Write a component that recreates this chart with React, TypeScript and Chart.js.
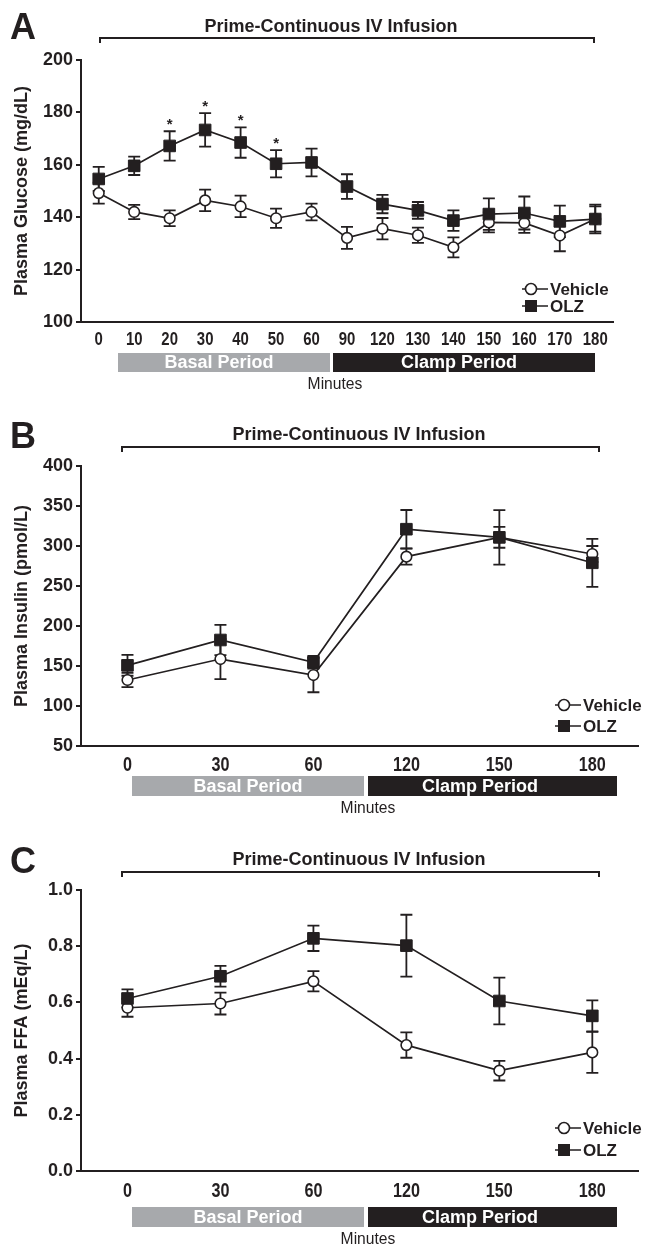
import React, { useEffect, useRef } from 'react';
import { Chart, registerables } from 'chart.js';

Chart.register(...registerables);

const SANS = "'Liberation Sans', Arial, Helvetica, sans-serif";
const INK = '#231f20';
const GRAY = '#a7a9ac';

// ---------- Panel A: plasma glucose ----------
const glucoseMinutes = ['0', '10', '20', '30', '40', '50', '60', '90', '120', '130', '140', '150', '160', '170', '180'];
const glucoseVehicle = [149.2, 142.0, 139.6, 146.4, 144.1, 139.6, 142.0, 132.1, 135.6, 133.1, 128.5, 138.0, 137.8, 133.0, 139.3];
const glucoseVehicleErr = [4.0, 2.7, 3.0, 4.1, 4.1, 3.7, 3.2, 4.2, 4.1, 2.9, 3.8, 3.8, 3.8, 6.0, 4.8];
const glucoseOlz = [154.6, 159.6, 167.2, 173.3, 168.5, 160.4, 160.9, 151.7, 145.0, 142.6, 138.7, 141.2, 141.6, 138.4, 139.3];
const glucoseOlzErr = [4.6, 3.5, 5.6, 6.4, 5.8, 5.2, 5.3, 4.7, 3.5, 3.2, 3.9, 6.0, 6.3, 6.0, 5.5];
const glucoseOlzSig = ['', '', '*', '*', '*', '*', '', '', '', '', '', '', '', '', ''];
const glucoseTicks = [100, 120, 140, 160, 180, 200];
const glucoseTickLabels = ['100', '120', '140', '160', '180', '200'];

// ---------- Panel B: plasma insulin ----------
const insulinMinutes = ['0', '30', '60', '120', '150', '180'];
const insulinVehicle = [132.5, 158.7, 138.7, 286.7, 310.8, 290.0];
const insulinVehicleErr = [9, 25, 21.5, 10, 13, 10];
const insulinOlz = [150.8, 182.5, 154.6, 321.0, 310.8, 279.0];
const insulinOlzErr = [13, 19, 8, 24, 34, 30];
const insulinTicks = [50, 100, 150, 200, 250, 300, 350, 400];
const insulinTickLabels = ['50', '100', '150', '200', '250', '300', '350', '400'];

// ---------- Panel C: plasma FFA ----------
const ffaMinutes = ['0', '30', '60', '120', '150', '180'];
const ffaVehicle = [0.581, 0.596, 0.675, 0.448, 0.357, 0.422];
const ffaVehicleErr = [0.032, 0.039, 0.036, 0.045, 0.035, 0.073];
const ffaOlz = [0.614, 0.693, 0.828, 0.802, 0.605, 0.552];
const ffaOlzErr = [0.032, 0.037, 0.045, 0.11, 0.083, 0.055];
const ffaTicks = [0, 0.2, 0.4, 0.6, 0.8, 1.0];
const ffaTickLabels = ['0.0', '0.2', '0.4', '0.6', '0.8', '1.0'];

const infusionLabel = 'Prime-Continuous IV Infusion';
const basalLabel = 'Basal Period';
const clampLabel = 'Clamp Period';
const xTitle = 'Minutes';
const vehicleName = 'Vehicle';
const olzName = 'OLZ';

type Layout = {
  top: number; height: number;
  chartTop: number; chartBottom: number; chartRight: number;
  letter: string; letterY: number;
  titleX: number; titleY: number; bracketY: number; bracketL: number; bracketR: number;
  basal: [number, number]; clamp: [number, number]; barY: number; barH: number;
  basalTextX: number; clampTextX: number;
  minutesX: number; minutesY: number;
  legendX: number; legendY1: number; legendY2: number;
  xFont: number; xLabelGap: number;
};

type PanelProps = {
  layout: Layout;
  labels: string[];
  vehicle: number[]; vehicleErr: number[];
  olz: number[]; olzErr: number[];
  sig?: string[];
  ticks: number[]; tickLabels: string[];
  yTitle: string;
};

function condensedText(ctx: CanvasRenderingContext2D, text: string, x: number, y: number, sx: number) {
  ctx.save();
  ctx.translate(x, y);
  ctx.scale(sx, 1);
  ctx.fillText(text, 0, 0);
  ctx.restore();
}

function Panel(p: PanelProps) {
  const ref = useRef<HTMLCanvasElement | null>(null);
  const L = p.layout;
  useEffect(() => {
    const canvas = ref.current;
    if (!canvas) return;
    const errs = [p.olzErr, p.vehicleErr];

    const decor = {
      id: 'decor' + L.letter,
      beforeDatasetsDraw(chart: any) {
        const ctx = chart.ctx;
        const ys = chart.scales.y;
        ctx.save();
        ctx.strokeStyle = INK;
        ctx.lineWidth = 1.8;
        chart.data.datasets.forEach((ds: any, di: number) => {
          const meta = chart.getDatasetMeta(di);
          ds.data.forEach((v: number, i: number) => {
            const e = errs[di][i];
            const x = meta.data[i].x;
            const y1 = ys.getPixelForValue(v + e);
            const y2 = ys.getPixelForValue(v - e);
            ctx.beginPath();
            ctx.moveTo(x, y1); ctx.lineTo(x, y2);
            ctx.moveTo(x - 6, y1); ctx.lineTo(x + 6, y1);
            ctx.moveTo(x - 6, y2); ctx.lineTo(x + 6, y2);
            ctx.stroke();
          });
        });
        ctx.restore();
      },
      afterDraw(chart: any) {
        const ctx = chart.ctx;
        const ys = chart.scales.y;
        const xs = chart.scales.x;
        ctx.save();
        ctx.fillStyle = INK;
        ctx.strokeStyle = INK;
        // x tick labels (condensed bold), positioned by the category scale
        ctx.font = `bold ${L.xFont}px ${SANS}`;
        ctx.textAlign = 'center';
        ctx.textBaseline = 'middle';
        xs.ticks.forEach((_t: any, i: number) => {
          condensedText(ctx, xs.getLabelForValue(i), xs.getPixelForTick(i), xs.top + L.xLabelGap, 0.83);
        });
        // panel letter
        ctx.font = `bold 36px ${SANS}`;
        ctx.textAlign = 'left';
        ctx.textBaseline = 'alphabetic';
        ctx.fillText(L.letter, 10, L.letterY);
        // infusion title + bracket
        ctx.font = `bold 18px ${SANS}`;
        ctx.textAlign = 'center';
        ctx.textBaseline = 'middle';
        ctx.fillText(infusionLabel, L.titleX, L.titleY);
        ctx.lineWidth = 2;
        ctx.beginPath();
        ctx.moveTo(L.bracketL, L.bracketY + 5);
        ctx.lineTo(L.bracketL, L.bracketY);
        ctx.lineTo(L.bracketR, L.bracketY);
        ctx.lineTo(L.bracketR, L.bracketY + 5);
        ctx.stroke();
        // period bars
        ctx.fillStyle = GRAY;
        ctx.fillRect(L.basal[0], L.barY, L.basal[1] - L.basal[0], L.barH);
        ctx.fillStyle = INK;
        ctx.fillRect(L.clamp[0], L.barY, L.clamp[1] - L.clamp[0], L.barH);
        ctx.fillStyle = '#ffffff';
        ctx.font = `bold 18px ${SANS}`;
        ctx.fillText(basalLabel, L.basalTextX, L.barY + L.barH / 2 + 1);
        ctx.fillText(clampLabel, L.clampTextX, L.barY + L.barH / 2 + 1);
        // x title
        ctx.fillStyle = INK;
        ctx.font = `17px ${SANS}`;
        condensedText(ctx, xTitle, L.minutesX, L.minutesY, 0.92);
        // significance marks
        if (p.sig) {
          const meta = chart.getDatasetMeta(0);
          ctx.font = `bold 15px ${SANS}`;
          p.sig.forEach((s, i) => {
            if (!s) return;
            const y = ys.getPixelForValue(p.olz[i] + p.olzErr[i]);
            ctx.fillText(s, meta.data[i].x, y - 6);
          });
        }
        // legend
        const lx = L.legendX;
        ctx.lineWidth = 1.6;
        ctx.beginPath();
        ctx.moveTo(lx - 9, L.legendY1); ctx.lineTo(lx + 17, L.legendY1);
        ctx.moveTo(lx - 9, L.legendY2); ctx.lineTo(lx + 17, L.legendY2);
        ctx.stroke();
        ctx.beginPath();
        ctx.arc(lx, L.legendY1, 5.5, 0, Math.PI * 2);
        ctx.fillStyle = '#ffffff';
        ctx.fill();
        ctx.stroke();
        ctx.fillStyle = INK;
        ctx.fillRect(lx - 6, L.legendY2 - 6, 12, 12);
        ctx.font = `bold 17px ${SANS}`;
        ctx.textAlign = 'left';
        ctx.fillText(vehicleName, lx + 19, L.legendY1 + 1);
        ctx.fillText(olzName, lx + 19, L.legendY2 + 1);
        ctx.restore();
      },
    };

    const chart = new Chart(canvas, {
      type: 'line',
      data: {
        labels: p.labels,
        datasets: [
          {
            label: olzName, data: p.olz, borderColor: INK, borderWidth: 1.7,
            pointStyle: 'rect', pointRadius: 8.2, pointBackgroundColor: INK,
            pointBorderColor: INK, pointBorderWidth: 1, fill: false, tension: 0,
          },
          {
            label: vehicleName, data: p.vehicle, borderColor: INK, borderWidth: 1.7,
            pointStyle: 'circle', pointRadius: 5.3, pointBackgroundColor: '#ffffff',
            pointBorderColor: INK, pointBorderWidth: 1.6, fill: false, tension: 0,
          },
        ],
      },
      options: {
        responsive: false,
        animation: false,
        devicePixelRatio: 1,
        layout: {
          padding: {
            left: 0, top: L.chartTop, right: 648 - L.chartRight,
            bottom: L.height - L.chartBottom - 30,
          },
        },
        plugins: { legend: { display: false }, tooltip: { enabled: false } },
        scales: {
          x: {
            type: 'category', offset: true,
            grid: { display: false },
            border: { display: true, color: INK, width: 2 },
            ticks: { display: false, autoSkip: false, maxRotation: 0 },
            afterFit: (s: any) => { s.height = 30; },
          },
          y: {
            min: p.ticks[0], max: p.ticks[p.ticks.length - 1],
            afterBuildTicks: (s: any) => { s.ticks = p.ticks.map((v) => ({ value: v })); },
            grid: { drawOnChartArea: false, color: INK, tickLength: 5, lineWidth: 2 },
            border: { display: true, color: INK, width: 2 },
            ticks: {
              color: INK, padding: 3,
              font: { family: SANS, size: 18, weight: 'bold' },
              callback: (_v: any, i: number) => p.tickLabels[i],
            },
            title: {
              display: true, text: p.yTitle, color: INK,
              font: { family: SANS, size: 18, weight: 'bold' },
              padding: { top: 11, bottom: 0 },
            },
            afterFit: (s: any) => { s.width = 81; },
          },
        },
      },
      plugins: [decor],
    } as any);
    return () => chart.destroy();
  }, []);
  return (
    <canvas
      ref={ref}
      width={648}
      height={L.height}
      style={{ position: 'absolute', left: 0, top: L.top, width: 648, height: L.height }}
    />
  );
}

const layoutA: Layout = {
  top: 0, height: 400, chartTop: 60, chartBottom: 322, chartRight: 613,
  letter: 'A', letterY: 39,
  titleX: 331, titleY: 27, bracketY: 38, bracketL: 100, bracketR: 594,
  basal: [118, 330], clamp: [333, 595], barY: 353, barH: 19,
  basalTextX: 219, clampTextX: 459, minutesX: 335, minutesY: 384,
  legendX: 531, legendY1: 289, legendY2: 306, xFont: 18, xLabelGap: 18,
};
const layoutB: Layout = {
  top: 400, height: 420, chartTop: 66, chartBottom: 346, chartRight: 647,
  letter: 'B', letterY: 48,
  titleX: 359, titleY: 35, bracketY: 47, bracketL: 122, bracketR: 599,
  basal: [132, 364], clamp: [368, 617], barY: 376, barH: 20,
  basalTextX: 248, clampTextX: 480, minutesX: 368, minutesY: 408,
  legendX: 564, legendY1: 305, legendY2: 326, xFont: 19.5, xLabelGap: 20,
};
const layoutC: Layout = {
  top: 820, height: 426, chartTop: 70, chartBottom: 351, chartRight: 647,
  letter: 'C', letterY: 53,
  titleX: 359, titleY: 40, bracketY: 52, bracketL: 122, bracketR: 599,
  basal: [132, 364], clamp: [368, 617], barY: 387, barH: 20,
  basalTextX: 248, clampTextX: 480, minutesX: 368, minutesY: 419,
  legendX: 564, legendY1: 308, legendY2: 330, xFont: 19.5, xLabelGap: 20.5,
};

export default function App() {
  return (
    <div style={{ position: 'absolute', left: 0, top: 0, width: 648, height: 1246, background: '#ffffff' }}>
      <Panel
        layout={layoutA} labels={glucoseMinutes}
        vehicle={glucoseVehicle} vehicleErr={glucoseVehicleErr}
        olz={glucoseOlz} olzErr={glucoseOlzErr} sig={glucoseOlzSig}
        ticks={glucoseTicks} tickLabels={glucoseTickLabels}
        yTitle="Plasma Glucose (mg/dL)"
      />
      <Panel
        layout={layoutB} labels={insulinMinutes}
        vehicle={insulinVehicle} vehicleErr={insulinVehicleErr}
        olz={insulinOlz} olzErr={insulinOlzErr}
        ticks={insulinTicks} tickLabels={insulinTickLabels}
        yTitle="Plasma Insulin (pmol/L)"
      />
      <Panel
        layout={layoutC} labels={ffaMinutes}
        vehicle={ffaVehicle} vehicleErr={ffaVehicleErr}
        olz={ffaOlz} olzErr={ffaOlzErr}
        ticks={ffaTicks} tickLabels={ffaTickLabels}
        yTitle="Plasma FFA (mEq/L)"
      />
    </div>
  );
}
